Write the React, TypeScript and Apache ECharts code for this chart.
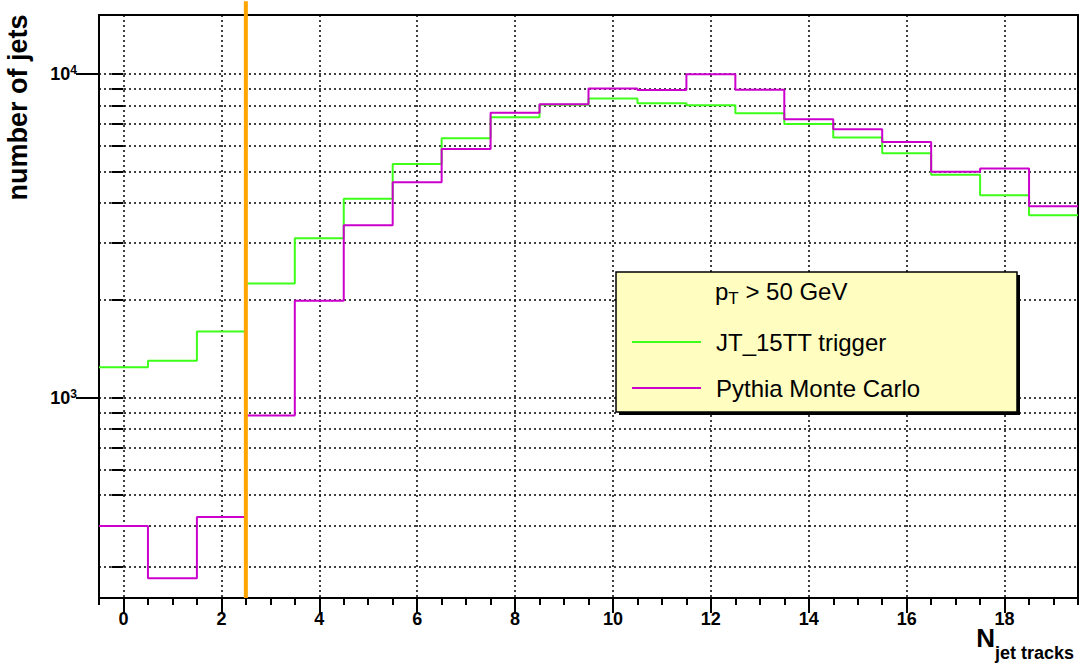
import React, { useEffect, useRef } from "react";
import * as echarts from "echarts";

// ---- data ----
const bins = [0, 1, 2, 3, 4, 5, 6, 7, 8, 9, 10, 11, 12, 13, 14, 15, 16, 17, 18, 19];
const trigger = [1240, 1300, 1600, 2250, 3110, 4120, 5270, 6330, 7350, 8040, 8410, 8130, 8010, 7570, 7010, 6370, 5690, 4880, 4220, 3660];
const pythia = [401, 276, 427, 880, 1990, 3410, 4630, 5870, 7590, 8070, 9030, 8930, 9980, 8940, 7250, 6750, 6170, 4990, 5110, 3900];
const seriesNames = ["JT_15TT trigger", "Pythia Monte Carlo"];
const headerText = "{n|p}{sub|T}{n| > 50 GeV}{h| }";
const yTitle = "number of jets";
const xTitleMain = "N";
const xTitleSub = "jet tracks";

const xRange = [-0.5, 19.5];
const yRange = [240, 15230];
const xMajorTicks = [0, 2, 4, 6, 8, 10, 12, 14, 16, 18];
const xMinorTicks = [-0.5, 0, 0.5, 1, 1.5, 2, 2.5, 3, 3.5, 4, 4.5, 5, 5.5, 6, 6.5, 7, 7.5, 8, 8.5, 9, 9.5, 10, 10.5, 11, 11.5, 12, 12.5, 13, 13.5, 14, 14.5, 15, 15.5, 16, 16.5, 17, 17.5, 18, 18.5, 19, 19.5];
const yMajorTicks = [1000, 10000];
const yAllTicks = [300, 400, 500, 600, 700, 800, 900, 1000, 2000, 3000, 4000, 5000, 6000, 7000, 8000, 9000, 10000];
const cutX = 2.5;
const cutTop = 16800;

const FONT = "Liberation Sans, Arial, Helvetica, sans-serif";

function stepPoints(vals: number[]) {
  const pts: number[][] = [];
  vals.forEach((v, i) => {
    pts.push([bins[i] - 0.5, v]);
    pts.push([bins[i] + 0.5, v]);
  });
  return pts;
}

export default function App() {
  const ref = useRef<HTMLDivElement>(null);
  useEffect(() => {
    document.body.style.margin = "0";
    const chart = echarts.init(ref.current!, null, { renderer: "svg" });
    const dotted = { color: "#000", type: [2, 3] as any, width: 1.5 };
    const option: any = {
      animation: false,
      backgroundColor: "#fff",
      textStyle: { fontFamily: FONT },
      grid: {
        left: 99, right: 4, top: 15, bottom: 69,
        show: true, borderColor: "#000", borderWidth: 2,
        containLabel: false, outerBoundsMode: "none",
      },
      xAxis: [
        {
          type: "value", min: xRange[0], max: xRange[1], position: "bottom",
          axisLine: { show: true, onZero: false, lineStyle: { color: "#000", width: 2 } },
          axisTick: { show: true, customValues: xMajorTicks, length: 15, lineStyle: { color: "#000", width: 2 } },
          axisLabel: { customValues: xMajorTicks, fontSize: 18, fontWeight: "bold", color: "#000", margin: 12, fontFamily: FONT },
          splitLine: { show: true, lineStyle: dotted },
        },
        {
          type: "value", min: xRange[0], max: xRange[1], position: "bottom",
          axisLine: { show: false },
          axisTick: { show: true, customValues: xMinorTicks, length: 7, lineStyle: { color: "#000", width: 2 } },
          axisLabel: { show: false },
          splitLine: { show: false },
        },
      ],
      yAxis: [
        {
          type: "log", logBase: 10, min: yRange[0], max: yRange[1], position: "left",
          axisLine: { show: true, onZero: false, lineStyle: { color: "#000", width: 2 } },
          axisTick: { show: true, customValues: yMajorTicks, length: 23, lineStyle: { color: "#000", width: 2 } },
          axisLabel: {
            customValues: yMajorTicks, margin: 22, color: "#000",
            formatter: (v: number) => `{b|10}{s|${Math.round(Math.log10(v))}}`,
            rich: {
              b: { fontSize: 18, fontWeight: "bold", lineHeight: 20, fontFamily: FONT, color: "#000" },
              s: { fontSize: 12, fontWeight: "bold", lineHeight: 12, verticalAlign: "top", fontFamily: FONT, color: "#000" },
            },
          },
          splitLine: { show: false },
        },
        {
          type: "log", logBase: 10, min: yRange[0], max: yRange[1], position: "left",
          axisLine: { show: false },
          axisTick: { show: true, customValues: yAllTicks, length: 12, lineStyle: { color: "#000", width: 2 } },
          axisLabel: { show: false },
          splitLine: { show: true, lineStyle: dotted },
        },
      ],
      legend: {
        data: seriesNames, orient: "vertical", left: 632, top: 330, padding: 0,
        itemWidth: 69, itemHeight: 2, itemGap: 22, icon: "rect", selectedMode: false,
        textStyle: { fontSize: 24, color: "#000", lineHeight: 24, fontFamily: FONT, padding: [0, 0, 0, 10] },
        z: 20,
      },
      graphic: [
        { type: "rect", z: 15, shape: { x: 619, y: 275, width: 401, height: 140 }, style: { fill: "#000" } },
        { type: "rect", z: 16, shape: { x: 616, y: 272, width: 401, height: 140 }, style: { fill: "#fffdc0", stroke: "#000", lineWidth: 1.5 } },
        {
          type: "text", z: 17, x: 715, y: 293,
          style: {
            text: headerText, verticalAlign: "middle", align: "left",
            rich: {
              n: { fontSize: 24, lineHeight: 24, fontFamily: FONT, fill: "#000", verticalAlign: "top" },
              sub: { fontSize: 17, lineHeight: 17, fontFamily: FONT, fill: "#000", verticalAlign: "bottom" },
              h: { fontSize: 2, lineHeight: 28, fontFamily: FONT, fill: "#000", verticalAlign: "middle" },
            },
          },
        },
        {
          type: "text", x: 18, y: 107.5, rotation: Math.PI / 2,
          style: { text: yTitle, fontSize: 27, fontWeight: "bold", fontFamily: FONT, fill: "#000", align: "center", verticalAlign: "middle" },
        },
        {
          type: "text", x: 995, y: 637.5,
          style: { text: xTitleMain, fontSize: 26, fontWeight: "bold", fontFamily: FONT, fill: "#000", align: "right", verticalAlign: "middle" },
        },
        {
          type: "text", x: 995, y: 653,
          style: { text: xTitleSub, fontSize: 18, fontWeight: "bold", fontFamily: FONT, fill: "#000", align: "left", verticalAlign: "middle" },
        },
      ],
      series: [
        {
          name: seriesNames[0], type: "line", data: stepPoints(trigger), xAxisIndex: 0, yAxisIndex: 0,
          symbol: "none", lineStyle: { color: "#3dff1a", width: 2 }, itemStyle: { color: "#3dff1a" }, z: 3,
        },
        {
          name: seriesNames[1], type: "line", data: stepPoints(pythia), xAxisIndex: 0, yAxisIndex: 0,
          symbol: "none", lineStyle: { color: "#cc00cc", width: 2 }, itemStyle: { color: "#cc00cc" }, z: 4,
        },
        {
          name: "cut", type: "line", data: [[cutX, yRange[0]], [cutX, cutTop]], xAxisIndex: 0, yAxisIndex: 0,
          clip: false, silent: true, symbol: "none", lineStyle: { color: "#ffa500", width: 4 }, z: 5,
        },
      ],
    };
    chart.setOption(option);
    return () => chart.dispose();
  }, []);
  return <div ref={ref} style={{ width: 1082, height: 667 }} />;
}
